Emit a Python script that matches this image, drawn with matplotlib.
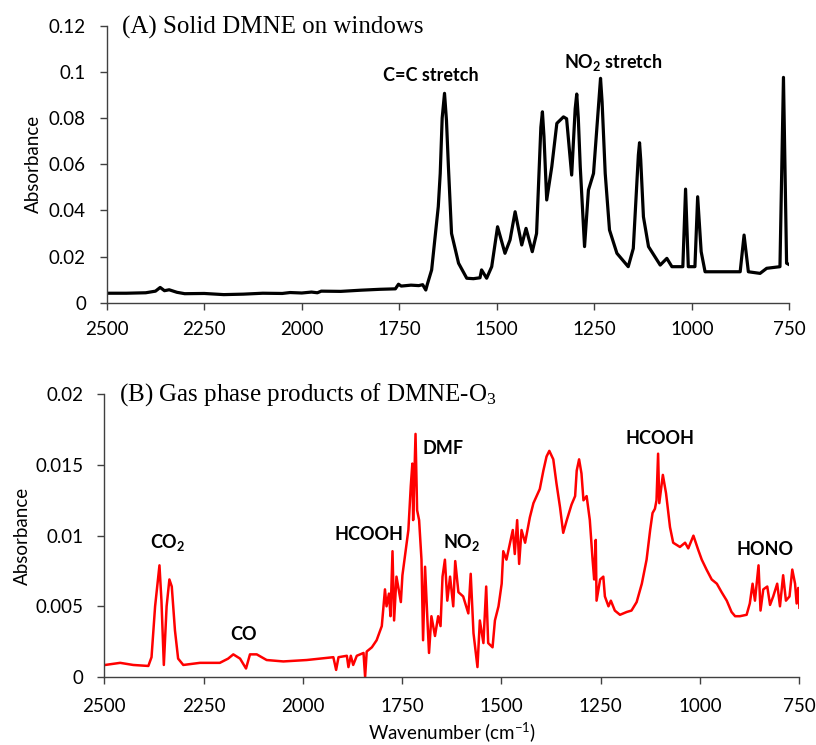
import matplotlib.pyplot as plt
import numpy as np

# (A) solid DMNE spectrum
wn_a = [2500, 2450, 2400, 2375, 2363, 2352, 2340, 2320, 2300, 2250, 2200, 2150, 2100,
        2050, 2030, 2000, 1975, 1960, 1950, 1900, 1850, 1800, 1760, 1752, 1745, 1720,
        1700, 1690, 1682, 1678, 1667, 1650, 1645, 1640, 1634, 1629, 1624, 1616, 1598,
        1577, 1560, 1543, 1539, 1526, 1513, 1498, 1479, 1466, 1453, 1436, 1425, 1409,
        1398, 1387, 1383, 1379, 1372, 1359, 1346, 1329, 1321, 1308, 1299, 1295, 1291,
        1286, 1275, 1265, 1252, 1238, 1234, 1230, 1222, 1211, 1192, 1163, 1150, 1137,
        1134, 1131, 1124, 1111, 1081, 1064, 1051, 1023, 1016, 1009, 992, 985, 976, 966,
        920, 876, 866, 855, 825, 808, 774, 765, 757, 748]
abs_a = [0.0041, 0.0041, 0.0043, 0.0050, 0.0066, 0.0052, 0.0056, 0.0045, 0.0039, 0.0040,
         0.0035, 0.0037, 0.0041, 0.0040, 0.0044, 0.0042, 0.0046, 0.0043, 0.0050, 0.0049,
         0.0054, 0.0058, 0.0060, 0.0080, 0.0072, 0.0076, 0.0074, 0.0078, 0.0055, 0.0080,
         0.0142, 0.0416, 0.0560, 0.0800, 0.0907, 0.0790, 0.0589, 0.0300, 0.0171, 0.0106,
         0.0104, 0.0108, 0.0142, 0.0106, 0.0156, 0.0329, 0.0214, 0.0272, 0.0394, 0.0250,
         0.0322, 0.0221, 0.0300, 0.0760, 0.0827, 0.0720, 0.0445, 0.0589, 0.0777, 0.0805,
         0.0797, 0.0553, 0.0840, 0.0904, 0.0800, 0.0589, 0.0243, 0.0488, 0.0560, 0.0880,
         0.0972, 0.0870, 0.0560, 0.0315, 0.0214, 0.0156, 0.0235, 0.0640, 0.0693, 0.0620,
         0.0372, 0.0243, 0.0163, 0.0192, 0.0156, 0.0156, 0.0492, 0.0156, 0.0156, 0.0459,
         0.0221, 0.0134, 0.0134, 0.0134, 0.0293, 0.0134, 0.0127, 0.0149, 0.0156, 0.0976,
         0.0171, 0.0163]

# (B) gas phase products spectrum
wn_b = [2500, 2498, 2460, 2427, 2389, 2381, 2372, 2361, 2356, 2350, 2343, 2336, 2330,
        2322, 2314, 2301, 2259, 2209, 2188, 2175, 2158, 2143, 2133, 2116, 2091, 2049,
        1990, 1957, 1923, 1916, 1910, 1889, 1885, 1879, 1873, 1864, 1847, 1843, 1839,
        1826, 1814, 1801, 1793, 1789, 1783, 1779, 1774, 1770, 1764, 1753, 1749, 1743,
        1734, 1728, 1724, 1722, 1716, 1712, 1707, 1701, 1697, 1692, 1686, 1682, 1676,
        1667, 1659, 1653, 1648, 1642, 1636, 1629, 1621, 1616, 1608, 1596, 1583, 1577,
        1570, 1560, 1554, 1545, 1538, 1533, 1522, 1516, 1507, 1499, 1495, 1487, 1478,
        1471, 1466, 1460, 1455, 1449, 1440, 1434, 1428, 1419, 1411, 1403, 1394, 1386,
        1379, 1369, 1361, 1352, 1344, 1335, 1323, 1314, 1310, 1304, 1298, 1293, 1285,
        1277, 1270, 1266, 1262, 1260, 1251, 1243, 1239, 1230, 1224, 1214, 1201, 1184,
        1172, 1159, 1146, 1134, 1125, 1119, 1113, 1109, 1105, 1102, 1093, 1085, 1075,
        1067, 1050, 1037, 1029, 1016, 1004, 995, 983, 970, 957, 945, 932, 920, 911,
        899, 882, 874, 867, 861, 852, 847, 840, 830, 823, 815, 805, 798, 790, 783, 774,
        767, 760, 756, 752, 749]
abs_b = [0.00085, 0.00085, 0.0010, 0.00085, 0.00078, 0.0014, 0.0050, 0.0079, 0.0054,
         0.00085, 0.0050, 0.0069, 0.0064, 0.0033, 0.0013, 0.00085, 0.0010, 0.0010,
         0.0013, 0.0016, 0.0013, 0.0006, 0.0016, 0.0016, 0.0012, 0.0011, 0.0012,
         0.0013, 0.0014, 0.0005, 0.0014, 0.0015, 0.0007, 0.0015, 0.00085, 0.0015,
         0.0017, 0.0000, 0.0018, 0.0021, 0.0026, 0.0036, 0.0062, 0.0050, 0.0059,
         0.0043, 0.0089, 0.0040, 0.0071, 0.0053, 0.0072, 0.0085, 0.0104, 0.0135,
         0.0151, 0.0111, 0.0172, 0.0118, 0.0111, 0.0083, 0.0026, 0.0078, 0.0040,
         0.0017, 0.0043, 0.0029, 0.0043, 0.0036, 0.0071, 0.0083, 0.0054, 0.0071,
         0.0050, 0.0082, 0.0060, 0.0057, 0.0045, 0.0073, 0.0031, 0.0007, 0.0040,
         0.0024, 0.0064, 0.0024, 0.0021, 0.0040, 0.0050, 0.0066, 0.0089, 0.0083,
         0.0095, 0.0104, 0.0087, 0.0111, 0.0080, 0.0104, 0.0095, 0.0104, 0.0113,
         0.0123, 0.0128, 0.0133, 0.0146, 0.0156, 0.0160, 0.0154, 0.0137, 0.0120,
         0.0102, 0.0111, 0.0122, 0.0128, 0.0146, 0.0154, 0.0144, 0.0125, 0.0128,
         0.0111, 0.0083, 0.0069, 0.0097, 0.0054, 0.0069, 0.0071, 0.0057, 0.0050,
         0.0054, 0.0047, 0.0044, 0.0046, 0.0047, 0.0053, 0.0066, 0.0083, 0.0104,
         0.0116, 0.0119, 0.0125, 0.0158, 0.0123, 0.0143, 0.0130, 0.0106, 0.0095,
         0.0092, 0.0095, 0.0091, 0.0100, 0.0090, 0.0083, 0.0076, 0.0069, 0.0066,
         0.0060, 0.0054, 0.0046, 0.0043, 0.0043, 0.0044, 0.0052, 0.0066, 0.0054,
         0.0079, 0.0047, 0.0062, 0.0064, 0.0051, 0.0057, 0.0066, 0.0050, 0.0072,
         0.0054, 0.0057, 0.0076, 0.0066, 0.0052, 0.0063, 0.0049]

xticks = [2500, 2250, 2000, 1750, 1500, 1250, 1000, 750]
yticks_a = [0, 0.02, 0.04, 0.06, 0.08, 0.1, 0.12]
ytick_labels_a = ["0", "0.02", "0.04", "0.06", "0.08", "0.1", "0.12"]
yticks_b = [0, 0.005, 0.01, 0.015, 0.02]
ytick_labels_b = ["0", "0.005", "0.01", "0.015", "0.02"]

sans = "Lato"
serif = "Liberation Serif"
plt.rcParams["mathtext.fontset"] = "custom"
plt.rcParams["mathtext.rm"] = sans
plt.rcParams["mathtext.it"] = sans
plt.rcParams["mathtext.bf"] = sans + ":bold"

fig = plt.figure(figsize=(8.16, 7.45), dpi=100)
ax1 = fig.add_axes([0.1308, 0.5937, 0.8365, 0.3718])
ax2 = fig.add_axes([0.1278, 0.0913, 0.8514, 0.3794])

for ax in (ax1, ax2):
    ax.spines["top"].set_visible(False)
    ax.spines["right"].set_visible(False)
    for s in ("left", "bottom"):
        ax.spines[s].set_linewidth(1.0)
        ax.spines[s].set_color("#404040")
    ax.set_xlim(2500, 750)
    ax.set_xticks(xticks)
    ax.set_xticklabels([str(t) for t in xticks], fontfamily=sans, fontsize=13.5)
    ax.tick_params(axis="both", direction="out", length=5, width=1.0, color="#404040")
    ax.tick_params(axis="y", pad=10)
    ax.set_ylabel("Absorbance", fontfamily=sans, fontsize=13.5)

ax1.plot(wn_a, abs_a, color="black", lw=2.3)
ax1.set_ylim(0, 0.12)
ax1.set_yticks(yticks_a)
ax1.set_yticklabels(ytick_labels_a, fontfamily=sans, fontsize=13.5)
ax1.tick_params(axis="x", pad=8)
ax1.yaxis.set_label_coords(-0.095, 0.5)
ax1.text(2461, 0.1194, "(A) Solid DMNE on windows", fontfamily=serif, fontsize=18,
         va="center", ha="left")
ax1.text(1668, 0.0986, "C=C stretch", fontfamily=sans, fontweight="bold", fontsize=13,
         ha="center", va="center")
ax1.text(1202, 0.1042, r"NO$\mathregular{_2}$ stretch", fontfamily=sans,
         fontweight="bold", fontsize=13, ha="center", va="center")

ax2.plot(wn_b, abs_b, color="red", lw=1.8)
ax2.set_ylim(0, 0.02)
ax2.set_yticks(yticks_b)
ax2.set_yticklabels(ytick_labels_b, fontfamily=sans, fontsize=13.5)
ax2.tick_params(axis="x", pad=10)
ax2.yaxis.set_label_coords(-0.105, 0.5)
ax2.set_xlabel("Wavenumber (cm$^{-1}$)", fontfamily=sans, fontsize=13.5, labelpad=4)
ax2.text(2462, 0.01995, r"(B) Gas phase products of DMNE-O$\mathregular{_3}$",
         fontfamily=serif, fontsize=18, va="center", ha="left")

labels_b = [r"CO$\mathregular{_2}$", "CO", "HCOOH", "DMF", r"NO$\mathregular{_2}$",
            "HCOOH", "HONO"]
lab_x = [2340, 2150, 1832, 1646, 1601, 1100, 836]
lab_y = [0.0095, 0.0030, 0.01005, 0.0162, 0.0095, 0.0169, 0.0090]
for t, x, y in zip(labels_b, lab_x, lab_y):
    ax2.text(x, y, t, fontfamily=sans, fontweight="bold", fontsize=13,
             ha="center", va="center")

fig.savefig("out.png", dpi=100)
